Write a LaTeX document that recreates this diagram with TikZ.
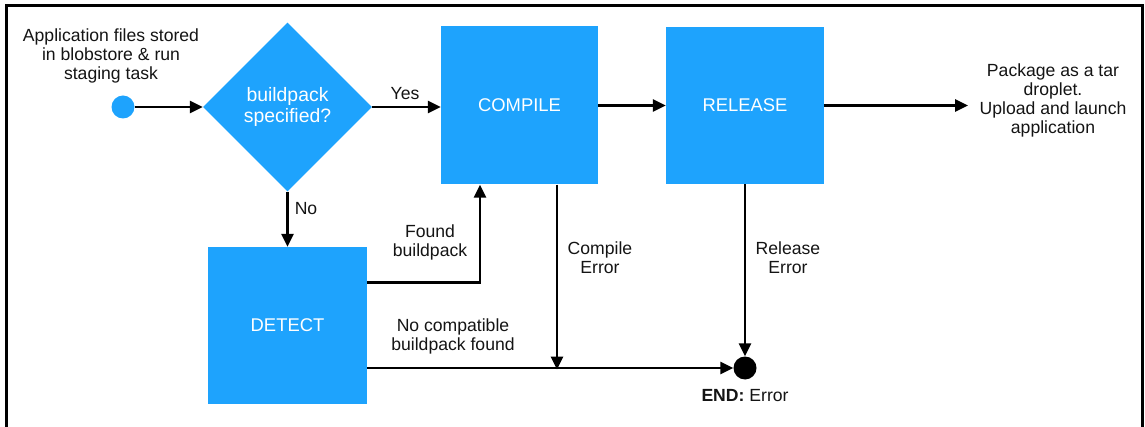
\documentclass[tikz,border=0pt]{standalone}
\usepackage{fontspec}
\setmainfont{Liberation Sans}
\usetikzlibrary{shapes.geometric,arrows.meta,calc}
\definecolor{boxblue}{RGB}{30,163,253}
\definecolor{ink}{RGB}{20,20,20}
\tikzset{
  lbl/.style={text=ink,align=center,font=\fontsize{17.6}{19}\selectfont,inner sep=0pt},
  blk/.style={rectangle,fill=boxblue,text=white,inner sep=0pt,font=\fontsize{18.4}{20}\selectfont},
  arr/.style={line width=2.8pt,draw=black,-{Triangle[length=13pt,width=12pt]}},
  ln/.style={line width=2.8pt,draw=black},
}
\begin{document}
\begin{tikzpicture}[x=1pt,y=-1pt]
\useasboundingbox (0,0) rectangle (1145,427);
\draw[line width=3pt] (6.5,430) -- (6.5,6) -- (1142,6) -- (1142,430);

\node[circle,fill=boxblue,minimum size=23pt,inner sep=0pt] (start) at (123,107) {};
\node[lbl] (apptxt) at (111,56) {Application files stored\\in blobstore \& run\\staging task};

\node[diamond,fill=boxblue,minimum width=169pt,minimum height=169pt,inner sep=0pt,
      text=white,align=center,font=\fontsize{19.4}{21.5}\selectfont] (dia) at (287.5,107) {buildpack\\specified?};

\node[blk,minimum width=157pt,minimum height=158pt] (compile) at (519.5,105.5) {COMPILE};
\node[blk,minimum width=158pt,minimum height=157pt] (release) at (745,105.5) {RELEASE};
\node[blk,minimum width=159pt,minimum height=157pt] (detect) at (287.5,325.5) {DETECT};

\node[circle,fill=black,minimum size=23pt,inner sep=0pt] (endc) at (745,368) {};
\node[lbl] (endtxt) at (745,396) {\textbf{END:} Error};

\coordinate (outend) at (968,105.5);
\node[lbl] (pkgtxt) at (1053,100.5) {Package as a tar\\droplet.\\Upload and launch\\application};

% connectors
\draw[arr] (start) -- (dia.west);
\draw[arr] (dia.east) -- (dia.east -| compile.west);
\node[lbl] (yes) at (405,94) {Yes};
\draw[arr] (dia.south) -- (detect.north);
\node[lbl] (no) at (306,209) {No};
\draw[arr] (compile.east) -- (release.west);
\draw[arr] (release.east) -- (outend);

\draw[arr] ([yshift=-36pt]detect.north east) -| ([xshift=-39.5pt]compile.south);
\node[lbl] (found) at (430,242.5) {Found\\buildpack};

\draw[arr] (detect.east |- endc) -- (endc.west);
\node[lbl] (nocomp) at (453,336) {No compatible\\buildpack found};

\draw[arr] ([xshift=37.5pt]compile.south) -- ([xshift=37.5pt,yshift=-1.5pt]compile.south |- endc);
\node[lbl] (cerr) at (600,257.5) {Compile\\Error};

\draw[arr] (release.south) -- (endc.north);
\node[lbl] (rerr) at (788,257.5) {Release\\Error};
\end{tikzpicture}
\end{document}
